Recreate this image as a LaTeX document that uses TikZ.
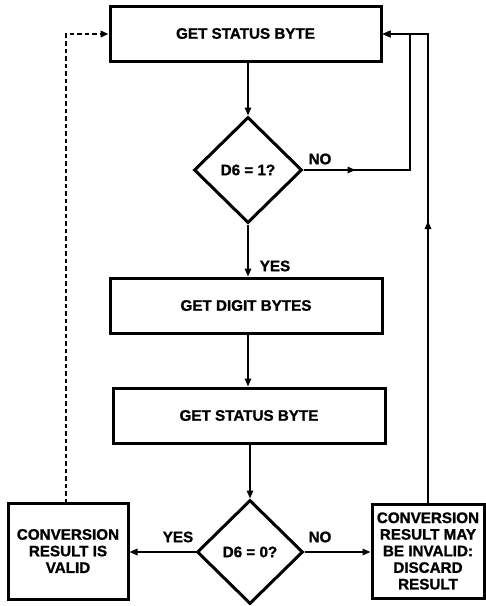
\documentclass[tikz,border=0pt]{standalone}
\usepackage{fontspec}
\setmainfont{Liberation Sans}
\newfontfamily\heavyfont[FakeBold=1.2]{Liberation Sans Bold}
\usetikzlibrary{arrows.meta,shapes.geometric,decorations.markings}
\tikzset{
  procbox/.style={draw,line width=3pt,inner sep=0pt,align=center,font=\fontsize{15.2}{16.6}\heavyfont},
  decbox/.style={draw,diamond,line width=3pt,inner sep=0pt,shape aspect=1,font=\fontsize{15.2}{16.6}\heavyfont},
  conn/.style={line width=1.6pt,-{Triangle[length=8pt,width=6.5pt]}},
  midarrow/.style={postaction={decorate},decoration={markings,mark=at position #1 with {\arrow{Triangle[length=8pt,width=6.5pt]}}}},
  lbl/.style={font=\fontsize{15.2}{16.6}\heavyfont,inner sep=0pt}
}
\begin{document}
\begin{tikzpicture}[x=1pt,y=-1pt]
\useasboundingbox (0,0) rectangle (486,606);
\node[procbox,minimum width=271pt,minimum height=55pt] (b1) at (245.5,33.5) {GET STATUS BYTE};
\node[decbox,minimum width=108pt,minimum height=106pt] (d1) at (248,170) {D6 = 1?};
\node[procbox,minimum width=272pt,minimum height=55pt] (b2) at (246,305.5) {GET DIGIT BYTES};
\node[procbox,minimum width=272pt,minimum height=55pt] (b3) at (249,415.5) {GET STATUS BYTE};
\node[decbox,minimum width=106pt,minimum height=104pt] (d2) at (250,552) {D6 = 0?};
\node[procbox,minimum width=120pt,minimum height=96pt] (v) at (68,551) {CONVERSION\\RESULT IS\\VALID};
\node[procbox,minimum width=112pt,minimum height=94pt] (x) at (428,551) {CONVERSION\\RESULT MAY\\BE INVALID:\\DISCARD\\RESULT};
\coordinate (r1) at (410,170);
\coordinate (r1t) at (410,34);
\coordinate (r2) at (428,503);
\coordinate (r2t) at (428,34);
\coordinate (l1) at (66,503);
\coordinate (l1t) at (66,34);
\draw[conn] (d1.north |- b1.south) -- (d1.north);
\draw[conn] (d1.south) -- (d1.south |- b2.north);
\draw[conn] (d1.south |- b2.south) -- (d1.south |- b3.north);
\draw[conn] (d2.north |- b3.south) -- (d2.north);
\draw[conn] (d2.west) -- (v.east |- d2.west);
\draw[conn] (d2.east) -- (x.west |- d2.east);
\draw[conn,midarrow=52pt] (d1.east) -- (r1) -- (r1t) -- (b1.east |- r1t);
\draw[conn,midarrow=282pt] (r2) -- (r2t) -- (b1.east |- r2t);
\draw[conn,line width=2.2pt,dash pattern=on 4.5pt off 3pt] (l1) -- (l1t) -- (b1.west |- l1t);
\node[lbl] (no1) at (320,159) {NO};
\node[lbl] (yes1) at (275,266) {YES};
\node[lbl] (yes2) at (178,537) {YES};
\node[lbl] (no2) at (320,537) {NO};
\end{tikzpicture}
\end{document}
